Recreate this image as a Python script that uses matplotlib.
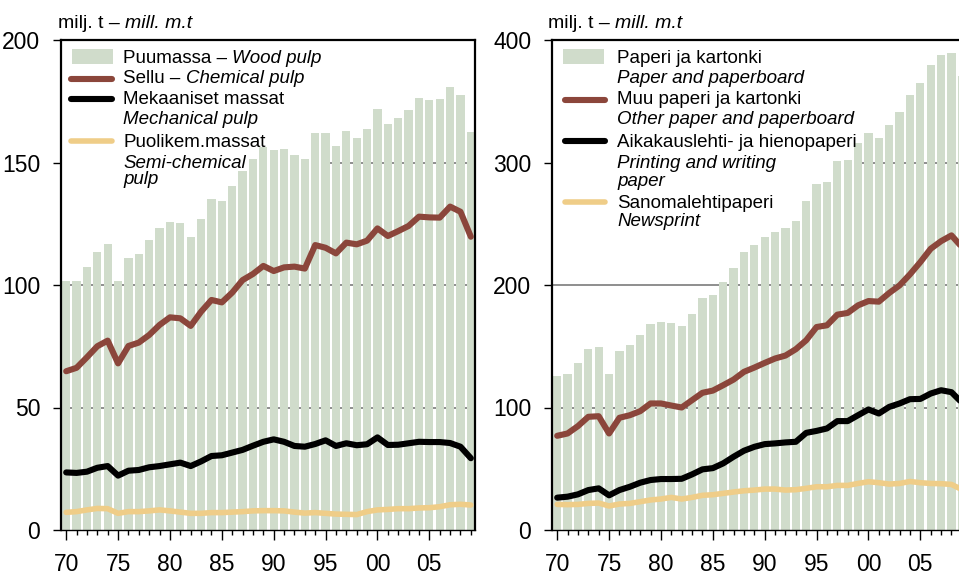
import matplotlib
matplotlib.use("Agg")
import matplotlib.pyplot as plt
from matplotlib import font_manager
from matplotlib.lines import Line2D
from matplotlib.patches import Rectangle

# ---------------- data ----------------
years = list(range(1970, 2010))

wood_pulp = [101.6, 101.6, 107.3, 113.5, 116.7, 101.6, 111.0, 112.7, 118.4, 123.3,
             125.7, 125.3, 119.6, 126.9, 135.1, 134.3, 140.5, 146.5, 151.4, 156.3,
             155.1, 155.5, 153.1, 151.4, 162.0, 162.0, 156.7, 162.9, 160.0, 163.7,
             171.8, 165.7, 168.2, 171.4, 176.3, 175.5, 175.9, 180.8, 177.6, 162.4]
chemical_pulp = [64.8, 66.2, 70.5, 75.0, 77.3, 68.0, 75.1, 76.5, 79.6, 83.7,
                 86.8, 86.4, 83.3, 89.1, 93.9, 92.9, 96.9, 102.0, 104.5, 107.8,
                 105.7, 107.2, 107.5, 106.7, 116.3, 115.2, 112.9, 117.3, 116.6, 118.1,
                 123.1, 120.0, 122.0, 124.1, 127.9, 127.6, 127.5, 132.0, 129.9, 119.7]
mechanical_pulp = [23.5, 23.3, 23.8, 25.4, 26.1, 22.2, 24.2, 24.5, 25.6, 26.1,
                   26.8, 27.5, 26.1, 28.0, 30.2, 30.5, 31.6, 32.7, 34.4, 36.0,
                   37.0, 36.0, 34.3, 34.0, 35.1, 36.6, 34.3, 35.4, 34.6, 35.0,
                   37.8, 34.7, 34.8, 35.4, 36.0, 35.9, 35.9, 35.5, 34.0, 29.3]
semi_chemical = [7.2, 7.5, 8.2, 8.8, 8.7, 6.8, 7.5, 7.5, 7.8, 8.2,
                 7.8, 7.3, 6.8, 6.8, 7.1, 7.1, 7.3, 7.5, 7.8, 7.9,
                 7.9, 7.8, 7.3, 6.9, 7.1, 6.8, 6.5, 6.4, 6.3, 7.5,
                 8.2, 8.4, 8.7, 8.7, 9.0, 9.1, 9.5, 10.3, 10.5, 10.2]

paper_board = [125.8, 127.4, 136.4, 147.8, 149.4, 127.4, 146.2, 151.1, 159.2, 168.2,
               169.6, 168.7, 166.6, 176.3, 189.4, 191.8, 202.4, 213.8, 226.9, 232.6,
               239.1, 243.2, 246.4, 252.1, 268.5, 282.3, 284.0, 301.0, 301.9, 315.7,
               323.9, 319.8, 331.0, 341.0, 355.4, 364.6, 379.3, 387.5, 389.1, 371.0]
other_paper = [76.9, 78.8, 84.8, 92.4, 92.9, 78.8, 91.6, 93.7, 97.0, 103.3,
               103.3, 101.6, 100.0, 106.0, 112.0, 113.8, 118.2, 122.8, 129.1, 132.6,
               136.4, 140.0, 142.4, 147.6, 154.9, 165.7, 167.1, 175.8, 177.2, 183.4,
               186.9, 186.4, 193.5, 199.7, 208.7, 218.7, 229.6, 235.8, 240.5, 231.0]
printing_writing = [26.4, 27.2, 29.1, 32.6, 34.0, 28.3, 32.6, 35.3, 38.6, 40.8,
                    41.6, 41.6, 41.8, 45.4, 49.5, 50.5, 54.4, 59.8, 64.7, 67.9,
                    70.1, 70.7, 71.5, 72.0, 79.3, 80.9, 82.9, 88.9, 88.9, 93.7,
                    98.4, 95.1, 100.5, 103.3, 106.8, 107.0, 111.4, 114.1, 112.5, 104.0]
newsprint = [20.9, 20.7, 20.9, 21.7, 22.0, 19.6, 21.2, 21.7, 23.1, 24.5,
             25.3, 26.6, 25.3, 26.6, 28.3, 28.8, 29.9, 31.0, 32.0, 32.6,
             33.4, 33.4, 32.6, 32.9, 34.0, 35.3, 35.3, 36.4, 36.4, 38.0,
             39.4, 38.6, 37.5, 38.0, 39.6, 38.6, 38.0, 37.8, 37.2, 33.0]

xtick_years = [1970, 1975, 1980, 1985, 1990, 1995, 2000, 2005]
xtick_labels = ["70", "75", "80", "85", "90", "95", "00", "05"]
left_yticks = [0, 50, 100, 150, 200]
right_yticks = [0, 100, 200, 300, 400]

# ---------------- style ----------------
names = {f.name for f in font_manager.fontManager.ttflist}
FONT = "Liberation Sans Narrow" if "Liberation Sans Narrow" in names else "Liberation Sans"
plt.rcParams["font.family"] = [FONT, "DejaVu Sans"]

BAR = "#d0dccb"
BROWN = "#8b463b"
BLACK = "#000000"
YELLOW = "#efcd88"
GRID = "#707070"

W, H = 959, 576
fig = plt.figure(figsize=(W / 100, H / 100), dpi=100)


def fx(px):
    return px / W


def fy(py):
    return 1 - py / H


def make_axes(left_px, ymax, yticks, bars, lines, box_px):
    ax = fig.add_axes([fx(left_px), fy(530), 414 / W, 490 / H])
    ax.set_xlim(1969.5, 2009.4)
    ax.set_ylim(0, ymax)
    for g in yticks[1:-1]:
        ax.axhline(g, color=GRID, lw=1.1, zorder=0.5)
    # white legend background (above grid, below bars)
    x0, y0, x1, y1 = box_px
    ax.add_patch(Rectangle((fx(x0), fy(y1)), fx(x1) - fx(x0), fy(y0) - fy(y1),
                           transform=fig.transFigure, facecolor="white",
                           edgecolor="none", zorder=1))
    ax.bar(years, bars, width=0.8, color=BAR, zorder=2)
    for vals, col, lw in lines:
        ax.plot(years, vals, color=col, lw=lw, solid_capstyle="round",
                solid_joinstyle="round", zorder=3)
    ax.set_xticks(xtick_years)
    ax.set_xticklabels(xtick_labels)
    ax.set_xticks(years, minor=True)
    ax.set_yticks(yticks)
    ax.tick_params(axis="x", which="major", length=7, width=1, direction="out",
                   pad=9.5, labelsize=16.5)
    ax.tick_params(axis="x", which="minor", length=3.5, width=1, direction="out")
    ax.tick_params(axis="y", which="major", length=6, width=1, direction="out",
                   pad=9, labelsize=16.5)
    for s in ["left", "top", "right"]:
        ax.spines[s].set_linewidth(1.6)
    ax.spines["bottom"].set_linewidth(1.0)
    return ax


ax1 = make_axes(61, 200, left_yticks, wood_pulp,
                [(chemical_pulp, BROWN, 4.4), (mechanical_pulp, BLACK, 4.4),
                 (semi_chemical, YELLOW, 4.0)],
                (61, 40, 325, 192))
ax2 = make_axes(552, 400, right_yticks, paper_board,
                [(other_paper, BROWN, 4.4), (printing_writing, BLACK, 4.4),
                 (newsprint, YELLOW, 4.0)],
                (552, 40, 860, 232))


def text_parts(ax, x_px, base_px, parts, size):
    prev = fig.text(fx(x_px), fy(base_px), parts[0][0], fontsize=size,
                    style=parts[0][1], va="baseline", ha="left")
    for txt, st in parts[1:]:
        prev = ax.annotate(txt, xy=(1, 0), xycoords=prev, va="bottom", ha="left",
                           fontsize=size, style=st, annotation_clip=False)
    return prev


def handle_patch(x0, x1, yc, h):
    fig.add_artist(Rectangle((fx(x0), fy(yc + h / 2)), fx(x1) - fx(x0), h / H,
                             transform=fig.transFigure, facecolor=BAR,
                             edgecolor="none"))


def handle_line(x0, x1, yc, col, lw):
    fig.add_artist(Line2D([fx(x0), fx(x1)], [fy(yc), fy(yc)], color=col, lw=lw,
                          solid_capstyle="round", transform=fig.transFigure))


# titles
text_parts(ax1, 58, 28, [("milj. t – ", "normal"), ("mill. m.t", "italic")], 14)
text_parts(ax2, 548, 28, [("milj. t – ", "normal"), ("mill. m.t", "italic")], 14)

# left legend
LS = 13.5
handle_patch(72, 113, 56, 15)
handle_line(71, 112, 79, BROWN, 4.4)
handle_line(71, 112, 99, BLACK, 4.4)
handle_line(71, 112, 141, YELLOW, 4.0)
text_parts(ax1, 123, 62.7, [("Puumassa – ", "normal"), ("Wood pulp", "italic")], LS)
text_parts(ax1, 123, 83.3, [("Sellu – ", "normal"), ("Chemical pulp", "italic")], LS)
text_parts(ax1, 123, 104, [("Mekaaniset massat", "normal")], LS)
text_parts(ax1, 123, 124.5, [("Mechanical pulp", "italic")], LS)
text_parts(ax1, 123, 146.7, [("Puolikem.massat", "normal")], LS)
text_parts(ax1, 123, 168.3, [("Semi-chemical", "italic")], LS)
text_parts(ax1, 123, 184.3, [("pulp", "italic")], LS)

# right legend
RS = 13.5
handle_patch(563, 604, 56, 15)
handle_line(565, 605, 100, BROWN, 4.4)
handle_line(565, 605, 141, BLACK, 4.4)
handle_line(565, 605, 202, YELLOW, 4.0)
text_parts(ax2, 617, 63.3, [("Paperi ja kartonki", "normal")], RS)
text_parts(ax2, 617, 83.3, [("Paper and paperboard", "italic")], RS)
text_parts(ax2, 617, 104, [("Muu paperi ja kartonki", "normal")], RS)
text_parts(ax2, 617, 124, [("Other paper and paperboard", "italic")], RS)
text_parts(ax2, 617, 146.7, [("Aikakauslehti- ja hienopaperi", "normal")], RS)
text_parts(ax2, 617, 168.3, [("Printing and writing", "italic")], RS)
text_parts(ax2, 617, 185.5, [("paper", "italic")], RS)
text_parts(ax2, 617, 208, [("Sanomalehtipaperi", "normal")], RS)
text_parts(ax2, 617, 226, [("Newsprint", "italic")], RS)

fig.savefig("out.png", dpi=100)
